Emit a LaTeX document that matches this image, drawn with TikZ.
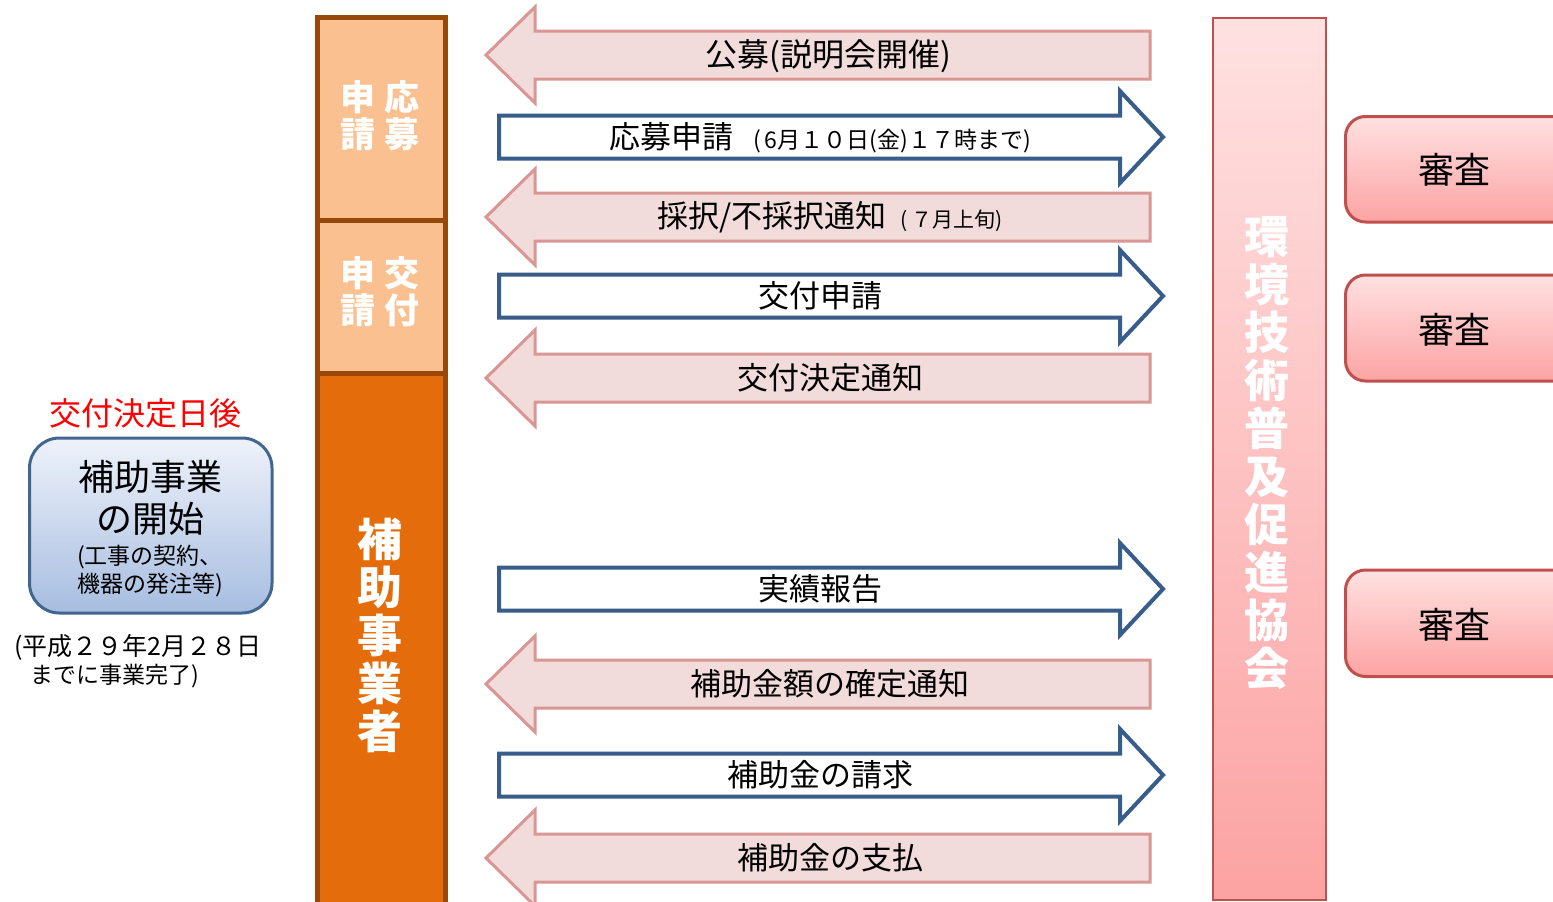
\documentclass[tikz,border=0pt]{standalone}
\usepackage{fontspec}
\setmainfont{Noto Sans CJK JP}
\definecolor{obrd}{HTML}{984807}
\definecolor{olight}{HTML}{FAC090}
\definecolor{odark}{HTML}{E46C0A}
\definecolor{pinkline}{HTML}{D99694}
\definecolor{pinkfill}{HTML}{F2DCDB}
\definecolor{blueline}{HTML}{385D8A}
\definecolor{rline}{HTML}{C0504D}
\definecolor{rtop}{HTML}{FFE1E1}
\definecolor{rbot}{HTML}{FCA3A3}
\definecolor{btop}{HTML}{EEF2FA}
\definecolor{bbot}{HTML}{A7BDE0}
\definecolor{bline}{HTML}{41668F}
\newcommand\PinkArr[1]{\draw[pinkarr] (486,#1) -- (535,#1-48) -- (535,#1-24) -- (1150,#1-24) -- (1150,#1+24) -- (535,#1+24) -- (535,#1+48) -- cycle;}
\newcommand\BlueArr[1]{\draw[bluearr] (499,#1-21.5) -- (1120,#1-21.5) -- (1120,#1-46) -- (1163,#1) -- (1120,#1+46) -- (1120,#1+21.5) -- (499,#1+21.5) -- cycle;}
\begin{document}
\begin{tikzpicture}[x=1pt,y=-1pt,
  pinkarr/.style={draw=pinkline, fill=pinkfill, line width=3pt, line join=miter},
  bluearr/.style={draw=blueline, fill=white, line width=4pt, line join=miter},
  lbl/.style={font=\fontsize{31}{31}\selectfont, text=black, inner sep=0pt},
  wvert/.style={font=\fontsize{45}{48}\selectfont\bfseries, text=white, align=center, inner sep=0pt},
  wcol/.style={font=\fontsize{35}{37}\selectfont\bfseries, text=white, align=center, inner sep=0pt},
  obox/.style={draw=obrd, line width=5pt},
  shinsa/.style={draw=rline, line width=3pt, rounded corners=20pt, top color=rtop, bottom color=rbot},
  shinsatxt/.style={font=\fontsize{36}{36}\selectfont, text=black, inner sep=0pt}
]
\useasboundingbox (0,0) rectangle (1553,902);
\clip (0,0) rectangle (1553,902);
\fill[white] (0,0) rectangle (1553,902);

% orange column
\draw[obox, fill=olight] (317.5,17.5) rectangle (445.5,220.5);
\draw[obox, fill=olight] (317.5,220.5) rectangle (445.5,373);
\draw[obox, fill=odark] (317.5,373) rectangle (445.5,915);
\node[wcol] (c1) at (380,116) {申\hspace{9pt}応\\請\hspace{9pt}募};
\node[wcol] (c2) at (380,292) {申\hspace{9pt}交\\請\hspace{9pt}付};
\node[wvert] (c3) at (380,635) {補\\助\\事\\業\\者};

% right column
\draw[draw=rline, line width=2pt, top color=rtop, bottom color=rbot] (1212.5,17.5) rectangle (1325.5,900);
\node[wvert] (kyokai) at (1267,453) {環\\境\\技\\術\\普\\及\\促\\進\\協\\会};

% shinsa boxes
\draw[shinsa] (1345.5,116.5) rectangle (1600,222);
\draw[shinsa] (1345.5,275) rectangle (1600,381);
\draw[shinsa] (1345.5,570) rectangle (1600,676.5);
\node[shinsatxt] (s1) at (1454,170) {審査};
\node[shinsatxt] (s2) at (1454,330) {審査};
\node[shinsatxt] (s3) at (1454,625) {審査};

% arrows
\PinkArr{55}
\BlueArr{137}
\PinkArr{217}
\BlueArr{296}
\PinkArr{378}
\BlueArr{589}
\PinkArr{684}
\BlueArr{775}
\PinkArr{858}

\node[lbl, font=\fontsize{32}{32}\selectfont] (a1) at (828,56) {公募(説明会開催)};
\node[lbl] (a2) at (820,138) {応募申請\hspace{20pt}{\fontsize{23}{23}\selectfont(\,6月１０日(金)１７時まで)}};
\node[lbl] (a3) at (830,217) {採択/不採択通知\hspace{14pt}{\fontsize{21}{21}\selectfont(\,７月上旬)}};
\node[lbl] (a4) at (820,296) {交付申請};
\node[lbl] (a5) at (830,378) {交付決定通知};
\node[lbl] (a6) at (820,589) {実績報告};
\node[lbl] (a7) at (830,684) {補助金額の確定通知};
\node[lbl] (a8) at (820,775) {補助金の請求};
\node[lbl] (a9) at (830,858) {補助金の支払};

% left
\node[font=\fontsize{32}{32}\selectfont, text=red, inner sep=0pt] (after) at (145,413) {交付決定日後};
\draw[draw=bline, line width=3pt, rounded corners=30pt, top color=btop, bottom color=bbot] (29.5,438) rectangle (272,613);
\node[font=\fontsize{36}{36}\selectfont, inner sep=0pt] (start1) at (150,477) {補助事業};
\node[font=\fontsize{36}{36}\selectfont, inner sep=0pt] (start2) at (150,519) {の開始};
\node[font=\fontsize{23}{23}\selectfont, inner sep=0pt] (start3) at (150,557) {(工事の契約、};
\node[font=\fontsize{23}{23}\selectfont, inner sep=0pt] (start4) at (150,585) {機器の発注等)};
\node[font=\fontsize{25}{25}\selectfont, inner sep=0pt, anchor=west] (due1) at (14,647) {(平成２９年2月２８日};
\node[font=\fontsize{23}{23}\selectfont, inner sep=0pt, anchor=west] (due2) at (30,676) {までに事業完了)};
\end{tikzpicture}
\end{document}
